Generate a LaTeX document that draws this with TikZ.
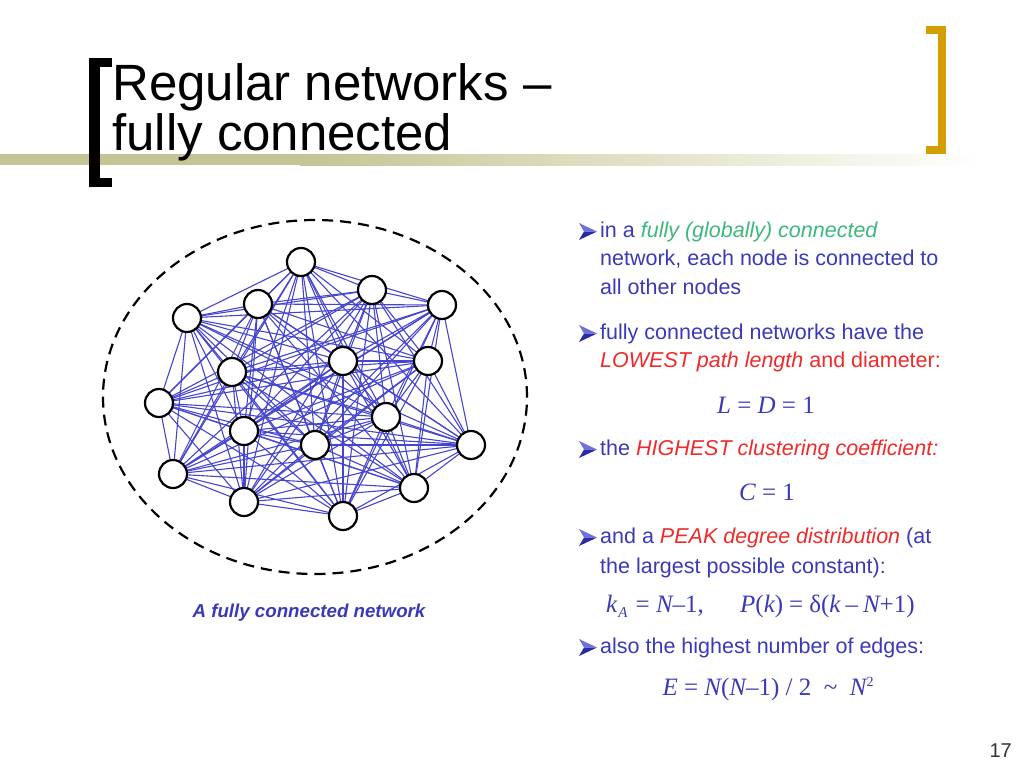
\documentclass[tikz,border=0pt]{standalone}
\usepackage{fontspec}
\usetikzlibrary{shapes.geometric}
\setmainfont{Liberation Sans}
\newfontfamily\serifm{Liberation Serif}
\definecolor{txtblue}{HTML}{3A3AB8}
\definecolor{edgeblue}{HTML}{4545D0}
\definecolor{grn}{HTML}{3DB87A}
\definecolor{rd}{HTML}{EE2A2A}
\definecolor{olivebar}{HTML}{C4C494}
\definecolor{gold}{HTML}{D29E00}
\definecolor{pgnum}{HTML}{333333}
\definecolor{bullight}{HTML}{7070DA}
\definecolor{buldark}{HTML}{2A2AA8}
\pgfdeclarelayer{bg}
\pgfsetlayers{bg,main}
\tikzset{
  netnode/.style={circle, draw=black, line width=2.2pt, fill=white, minimum size=28pt, inner sep=0pt},
  edge/.style={edgeblue, line width=1.1pt},
  txt/.style={anchor=base west, inner sep=0pt, text=txtblue, font=\fontsize{21.5}{21.5}\selectfont},
  frm/.style={anchor=base, inner sep=0pt, text=txtblue, font=\serifm\fontsize{25}{25}\selectfont},
  ttl/.style={anchor=base west, inner sep=0pt, font=\fontsize{51}{51}\selectfont},
  arrbul/.pic={
    \fill[bullight] (-18,-17) -- (0,-8.5) -- (-13,-8.5) -- cycle;
    \fill[buldark] (-13,-8.5) -- (0,-8.5) -- (-18,0) -- cycle;
  }
}
\begin{document}
\begin{tikzpicture}[x=1pt,y=-1pt]
\useasboundingbox (0,0) rectangle (1024,768);
% olive band
\fill[olivebar] (0,154) rectangle (300,165);
\shade[left color=olivebar, right color=white] (300,154) rectangle (980,165);
% black bracket
\fill[black] (89,58) rectangle (100,187);
\fill[black] (89,58) rectangle (112,67);
\fill[black] (89,178) rectangle (112,187);
% gold bracket
\fill[gold] (938,26) rectangle (946,154);
\fill[gold] (926,26) rectangle (946,34);
\fill[gold] (926,146) rectangle (946,154);
% title
\node[ttl] (t1) at (112,100) {Regular networks –};
\node[ttl] (t2) at (112,150) {fully connected};
% network
\node[draw=black, dash pattern=on 11pt off 7pt, line width=2.2pt, ellipse, minimum width=424pt, minimum height=354pt, inner sep=0pt] (ell) at (315,397) {};
\foreach \n/\x/\y in {1/301/262, 2/372/290, 3/442/305, 4/258/304, 5/187/318, 6/343/361, 7/428/361, 8/232/372, 9/159/403, 10/386/417, 11/244/431, 12/315/445, 13/471/445, 14/173/474, 15/414/488, 16/244/502, 17/343/516}
  \node[netnode] (n\n) at (\x,\y) {};
\begin{pgfonlayer}{bg}
\foreach \i in {1,...,16} {
  \pgfmathtruncatemacro\k{\i+1}
  \foreach \j in {\k,...,17}
    \draw[edge] (n\i.center) -- (n\j.center);
}
\end{pgfonlayer}
\node[anchor=base, inner sep=0pt, text=txtblue, font=\bfseries\itshape\fontsize{18.7}{18.7}\selectfont] (cap) at (309,617) {A fully connected network};
% right text
\pic at (597,240) {arrbul};
\node[txt] (l1) at (600,237) {in a \textcolor{grn}{\itshape fully (globally) connected}};
\node[txt] (l2) at (600,265) {network, each node is connected to};
\node[txt] (l3) at (600,294) {all other nodes};
\pic at (597,342) {arrbul};
\node[txt] (l4) at (600,339) {fully connected networks have the};
\node[txt, text=rd] (l5) at (600,367) {\itshape LOWEST path length\upshape{} and diameter:};
\node[frm] (f1) at (766,413) {\itshape L\upshape{} = \itshape D\upshape{} = 1};
\pic at (597,458) {arrbul};
\node[txt] (l6) at (600,455) {the \textcolor{rd}{\itshape HIGHEST clustering coefficient:}};
\node[frm] (f2) at (767,500) {\itshape C\upshape{} = 1};
\pic at (597,546) {arrbul};
\node[txt] (l7) at (600,543) {and a \textcolor{rd}{\itshape PEAK degree distribution} (at};
\node[txt] (l8) at (600,573) {the largest possible constant):};
\node[frm, anchor=base west] (f3) at (606,612) {\itshape k\kern1pt\raisebox{-5pt}{\fontsize{15}{15}\selectfont A}\upshape\kern2pt{} = \itshape N\upshape–1,};
\node[frm, anchor=base west] (f3b) at (740,612) {\itshape P\upshape(\itshape k\upshape)\kern6pt=\kern6pt δ(\itshape k\upshape\kern5pt–\kern5pt\itshape N\upshape+1)};
\pic at (597,656) {arrbul};
\node[txt] (l9) at (600,653) {also the highest number of edges:};
\node[frm] (f4) at (768,695) {\itshape E\upshape{} = \itshape N\upshape(\itshape N\upshape–1) / 2 \ \textasciitilde{} \ \itshape N\upshape\raisebox{9pt}{\fontsize{14}{14}\selectfont 2}};
% page number
\node[anchor=base east, inner sep=0pt, text=pgnum, font=\fontsize{20}{20}\selectfont] (pg) at (1012,757) {17};
\end{tikzpicture}
\end{document}
